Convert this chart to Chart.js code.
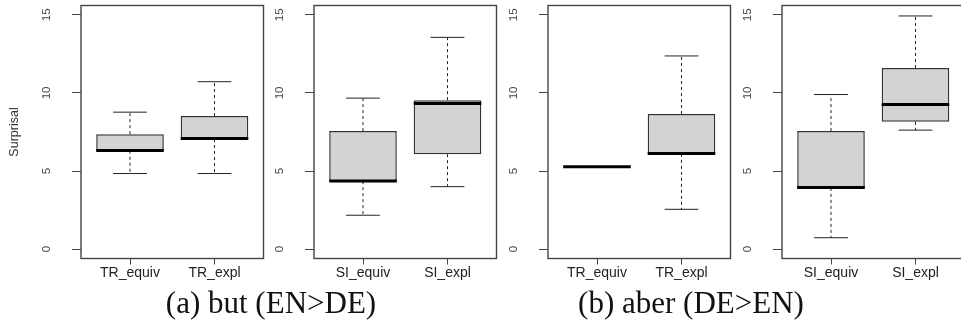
<!DOCTYPE html>
<html>
<head>
<meta charset="utf-8">
<script src="https://cdn.jsdelivr.net/npm/chart.js@4.4.1/dist/chart.umd.min.js"></script>
<style>
  html, body { margin: 0; padding: 0; background: #fff; width: 961px; height: 325px; overflow: hidden; }
  .panel { position: absolute; top: 0; height: 300px; }
  .caption { position: absolute; top: 285px; font-family: "Liberation Serif", serif; font-size: 31px; color: #111; white-space: nowrap; transform: translateX(-50%); }
</style>
</head>
<body>
<div class="panel" id="p0"><canvas id="c0"></canvas></div>
<div class="panel" id="p1"><canvas id="c1"></canvas></div>
<div class="panel" id="p2"><canvas id="c2"></canvas></div>
<div class="panel" id="p3"><canvas id="c3"></canvas></div>
<div class="caption" style="left:271px">(a) but (EN&gt;DE)</div>
<div class="caption" style="left:691px">(b) aber (DE&gt;EN)</div>

<script>
// --- DATA ---
const catsTR = ['TR_equiv', 'TR_expl'];
const catsSI = ['SI_equiv', 'SI_expl'];
const yTicks = [0, 5, 10, 15];

// (a) but, TR
const butTrMin = [4.84, 4.84];
const butTrQ1 = [6.30, 7.05];
const butTrMed = [6.31, 7.08];
const butTrQ3 = [7.36, 8.52];
const butTrMax = [8.77, 10.72];

// (a) but, SI
const butSiMin = [2.17, 4.00];
const butSiQ1 = [4.35, 6.08];
const butSiMed = [4.37, 9.33];
const butSiQ3 = [7.56, 9.54];
const butSiMax = [9.67, 13.56];

// (b) aber, TR
const aberTrMin = [5.27, 2.55];
const aberTrQ1 = [5.27, 6.10];
const aberTrMed = [5.27, 6.12];
const aberTrQ3 = [5.27, 8.65];
const aberTrMax = [5.27, 12.37];

// (b) aber, SI
const aberSiMin = [0.73, 7.62];
const aberSiQ1 = [3.92, 8.15];
const aberSiMed = [3.94, 9.26];
const aberSiQ3 = [7.56, 11.60];
const aberSiMax = [9.90, 14.93];

const panels = [
  { cats: catsTR, min: butTrMin, q1: butTrQ1, med: butTrMed, q3: butTrQ3, max: butTrMax },
  { cats: catsSI, min: butSiMin, q1: butSiQ1, med: butSiMed, q3: butSiQ3, max: butSiMax },
  { cats: catsTR, min: aberTrMin, q1: aberTrQ1, med: aberTrMed, q3: aberTrQ3, max: aberTrMax },
  { cats: catsSI, min: aberSiMin, q1: aberSiQ1, med: aberSiMed, q3: aberSiQ3, max: aberSiMax }
];

// --- LAYOUT ---
const plotLefts = [80.5, 313.5, 548, 782];
const plotWidth = 182.5;
const axisW = 80;
const canvasW = 266;
const canvasH = 300;
const plotTop = 5.5;
const plotH = 253;
const FONT = '"Liberation Sans", Arial, sans-serif';

// whiskers, caps and median lines on top of the floating bars
const boxPlot = {
  id: 'boxPlot',
  afterDatasetsDraw(chart) {
    const { ctx, scales: { y } } = chart;
    const p = chart.data.datasets[0].box;
    if (!p) return;
    chart.getDatasetMeta(0).data.forEach((bar, i) => {
      const x = bar.x;
      const half = bar.width / 2;
      const cap = bar.width / 4;
      const yMin = y.getPixelForValue(p.min[i]);
      const yQ1 = y.getPixelForValue(p.q1[i]);
      const yMed = y.getPixelForValue(p.med[i]);
      const yQ3 = y.getPixelForValue(p.q3[i]);
      const yMax = y.getPixelForValue(p.max[i]);
      ctx.save();
      ctx.strokeStyle = '#222';
      ctx.lineWidth = 1;
      ctx.setLineDash([3, 3]);
      ctx.beginPath();
      if (p.max[i] > p.q3[i]) { ctx.moveTo(x, yQ3); ctx.lineTo(x, yMax); }
      if (p.min[i] < p.q1[i]) { ctx.moveTo(x, yQ1); ctx.lineTo(x, yMin); }
      ctx.stroke();
      ctx.setLineDash([]);
      ctx.beginPath();
      if (p.max[i] > p.q3[i]) { ctx.moveTo(x - cap, yMax); ctx.lineTo(x + cap, yMax); }
      if (p.min[i] < p.q1[i]) { ctx.moveTo(x - cap, yMin); ctx.lineTo(x + cap, yMin); }
      ctx.stroke();
      ctx.strokeStyle = '#000';
      ctx.lineWidth = 3;
      ctx.beginPath();
      ctx.moveTo(x - half, yMed);
      ctx.lineTo(x + half, yMed);
      ctx.stroke();
      ctx.restore();
    });
  }
};

// box around the plot region, like R's box()
const frame = {
  id: 'frame',
  afterDraw(chart) {
    const { ctx, chartArea: a } = chart;
    ctx.save();
    ctx.strokeStyle = '#444';
    ctx.lineWidth = 1.4;
    ctx.strokeRect(a.left, a.top, a.right - a.left, a.bottom - a.top);
    ctx.restore();
  }
};

panels.forEach((p, k) => {
  const holder = document.getElementById('p' + k);
  holder.style.left = (plotLefts[k] - axisW) + 'px';
  holder.style.width = canvasW + 'px';
  const canvas = document.getElementById('c' + k);
  canvas.width = canvasW;
  canvas.height = canvasH;

  new Chart(canvas, {
    type: 'bar',
    data: {
      datasets: [{
        data: p.cats.map((c, i) => ({ x: i + 1, y: [p.q1[i], p.q3[i]] })),
        box: p,
        backgroundColor: '#d3d3d3',
        borderColor: '#333',
        borderWidth: 1.5,
        borderSkipped: false,
        barPercentage: 1,
        categoryPercentage: 0.8
      }]
    },
    options: {
      responsive: false,
      animation: false,
      devicePixelRatio: 1,
      layout: { padding: { left: 0, top: plotTop, right: canvasW - axisW - plotWidth, bottom: 0 } },
      plugins: { legend: { display: false }, tooltip: { enabled: false } },
      scales: {
        x: {
          type: 'linear',
          min: 0.42,
          max: 2.58,
          offset: false,
          afterBuildTicks: s => { s.ticks = p.cats.map((c, i) => ({ value: i + 1 })); },
          afterFit: s => {
            s.height = canvasH - plotTop - plotH;
            s.paddingLeft = 0;
            s.paddingRight = 0;
          },
          border: { display: false },
          grid: { drawOnChartArea: false, offset: false, tickLength: 6, color: '#444' },
          ticks: {
            callback: v => p.cats[v - 1],
            maxRotation: 0,
            autoSkip: false,
            padding: 0,
            color: '#222',
            font: { family: FONT, size: 14 }
          }
        },
        y: {
          min: -0.6,
          max: 15.6,
          afterBuildTicks: s => { s.ticks = yTicks.map(v => ({ value: v })); },
          afterFit: s => {
            s.width = axisW;
            s.paddingTop = 0;
            s.paddingBottom = 0;
          },
          border: { display: false },
          grid: { drawOnChartArea: false, tickLength: 9, color: '#444' },
          ticks: {
            minRotation: 90,
            maxRotation: 90,
            crossAlign: 'center',
            padding: 19,
            color: '#444',
            font: { family: FONT, size: 11.5 }
          },
          title: {
            display: k === 0,
            text: 'Surprisal',
            color: '#333',
            font: { family: FONT, size: 12.5 },
            padding: { top: 6, bottom: 0 }
          }
        }
      }
    },
    plugins: [boxPlot, frame]
  });
});
</script>
</body>
</html>
